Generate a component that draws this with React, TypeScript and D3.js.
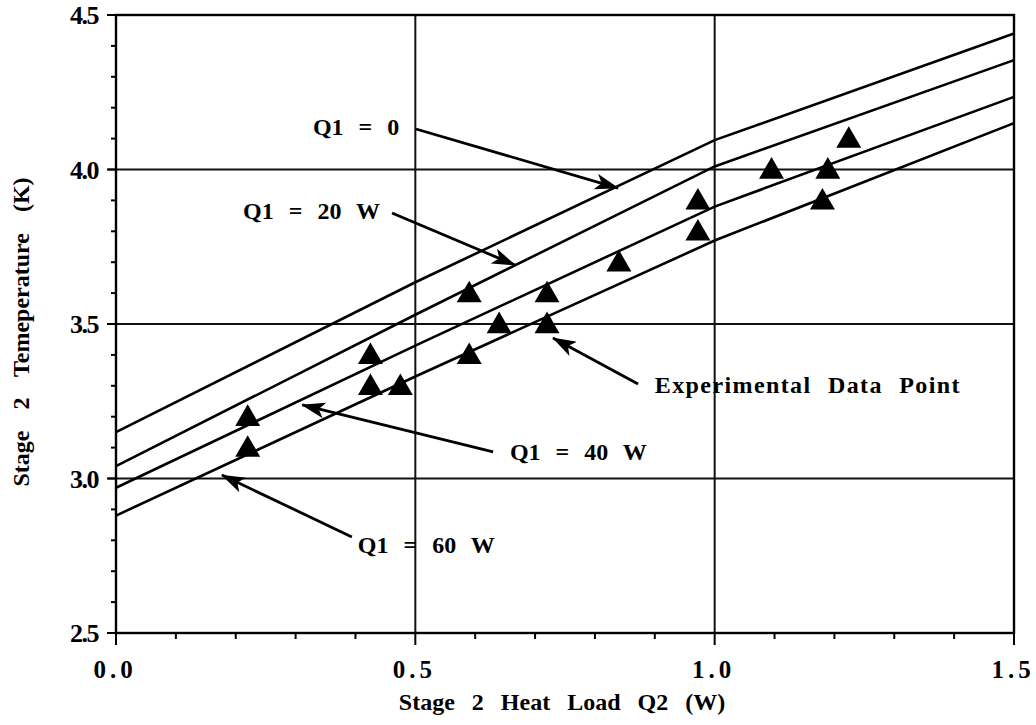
import React from "react";
import * as d3 from "d3";

// Q2 heat load grid for the model curves (W)
const q2Grid = [0, 0.5, 1.0, 1.5];
// model curves, stage 2 temperature (K) for each Q1
const curveQ1_0 = [3.15, 3.635, 4.095, 4.44];
const curveQ1_20 = [3.04, 3.53, 4.01, 4.354];
const curveQ1_40 = [2.97, 3.43, 3.88, 4.235];
const curveQ1_60 = [2.88, 3.33, 3.77, 4.15];

// experimental data points
const expQ2 = [0.22, 0.22, 0.425, 0.425, 0.475, 0.59, 0.59, 0.64, 0.72, 0.72, 0.84, 0.972, 0.972, 1.095, 1.189, 1.18, 1.224];
const expT = [3.2, 3.1, 3.4, 3.3, 3.3, 3.6, 3.4, 3.5, 3.6, 3.5, 3.7, 3.9, 3.8, 4.0, 4.0, 3.9, 4.1];

const xTicks = [0, 0.5, 1.0, 1.5];
const yTicks = [2.5, 3.0, 3.5, 4.0, 4.5];
const xTickLabels = ["0.0", "0.5", "1.0", "1.5"];
const yTickLabels = ["2.5", "3.0", "3.5", "4.0", "4.5"];

// annotations (data coords): label anchor, arrow start, arrow end
const annoText = ["Q1 = 0", "Q1 = 20 W", "Experimental Data Point", "Q1 = 40 W", "Q1 = 60 W"];
const annoAnchor = ["start", "end", "start", "start", "start"];
const annoSpacing = [0, 0, 1.4, 0, 0];
const annoPos = [[0.329, 4.112], [0.441, 3.84], [0.9, 3.277], [0.658, 3.06], [0.404, 2.759]];
const annoFrom = [[0.501, 4.131], [0.461, 3.859], [0.872, 3.306], [0.63, 3.086], [0.394, 2.811]];
const annoTo = [[0.8385, 3.94], [0.6665, 3.691], [0.73, 3.455], [0.311, 3.238], [0.177, 3.011]];

const serif = { fontFamily: "'Liberation Serif', 'DejaVu Serif', serif", fontWeight: 700 };

export default function App() {
  const width = 1036;
  const height = 725;

  //scales
  const x = d3.scaleLinear().domain([0, 1.5]).range([116, 1014]);
  const y = d3.scaleLinear().domain([2.5, 4.5]).range([633, 15]);

  const line = d3
    .line<number>()
    .x((_, i) => x(q2Grid[i]))
    .y((d) => y(d));

  const curves = [curveQ1_0, curveQ1_20, curveQ1_40, curveQ1_60];
  const minorX = d3.range(0, 1.5001, 0.1);
  const minorY = d3.range(2.5, 4.5001, 0.1);

  const tri = d3.symbol().type(d3.symbolTriangle).size(270);

  return (
    <svg
      width={width}
      height={height}
      style={{ position: "absolute", left: 0, top: 0, background: "#fff" }}
    >
      <defs>
        <marker
          id="head"
          viewBox="0 0 24 16"
          refX="23"
          refY="8"
          markerWidth="24"
          markerHeight="16"
          markerUnits="userSpaceOnUse"
          orient="auto"
        >
          <path d="M0,0 L24,8 L0,16 L6,8 Z" fill="#000" />
        </marker>
      </defs>

      {/* grid */}
      {xTicks.slice(1, -1).map((t) => (
        <line key={"gx" + t} x1={x(t)} x2={x(t)} y1={y(4.5)} y2={y(2.5)} stroke="#111" strokeWidth={2} />
      ))}
      {yTicks.slice(1, -1).map((t) => (
        <line key={"gy" + t} x1={x(0) - 8} x2={x(1.5)} y1={y(t)} y2={y(t)} stroke="#111" strokeWidth={2} />
      ))}

      {/* frame */}
      <rect x={x(0)} y={y(4.5)} width={x(1.5) - x(0)} height={y(2.5) - y(4.5)} fill="none" stroke="#000" strokeWidth={2.4} />

      {/* minor + major ticks */}
      {minorY.map((t, i) => (
        <line key={"ty" + i} x1={x(0) - (i % 5 === 0 ? 9 : 5)} x2={x(0)} y1={y(t)} y2={y(t)} stroke="#000" strokeWidth={2} />
      ))}
      {minorX.map((t, i) => (
        <line key={"tx" + i} x1={x(t)} x2={x(t)} y1={y(2.5)} y2={y(2.5) + (i % 5 === 0 ? 12 : 6)} stroke="#000" strokeWidth={2} />
      ))}

      {/* tick labels */}
      {yTicks.map((t, i) => (
        <text key={"ly" + t} x={98} y={y(t)} dy="0.35em" textAnchor="end" fontSize={26} letterSpacing={-1.5} style={serif}>
          {yTickLabels[i]}
        </text>
      ))}
      {xTicks.map((t, i) => (
        <text key={"lx" + t} x={x(t) - 1} y={678} textAnchor="middle" fontSize={25} letterSpacing={4} style={serif}>
          {xTickLabels[i]}
        </text>
      ))}

      {/* axis titles */}
      <text x={562} y={710} textAnchor="middle" fontSize={24} wordSpacing={11} style={serif}>
        Stage 2 Heat Load Q2 (W)
      </text>
      <text transform={`translate(29,332) rotate(-90)`} textAnchor="middle" fontSize={24} wordSpacing={15} style={serif}>
        Stage 2 Temeperature (K)
      </text>

      {/* model curves */}
      {curves.map((c, i) => (
        <path key={"c" + i} d={line(c) || ""} fill="none" stroke="#000" strokeWidth={2.6} />
      ))}

      {/* experimental points */}
      {expQ2.map((q, i) => (
        <path key={"p" + i} d={tri() || ""} transform={`translate(${x(q)},${y(expT[i]) + 2})`} fill="#000" />
      ))}

      {/* annotations */}
      {annoText.map((s, i) => (
        <g key={"a" + i}>
          <line
            x1={x(annoFrom[i][0])}
            y1={y(annoFrom[i][1])}
            x2={x(annoTo[i][0])}
            y2={y(annoTo[i][1])}
            stroke="#000"
            strokeWidth={2.8}
            markerEnd="url(#head)"
          />
          <text
            x={x(annoPos[i][0])}
            y={y(annoPos[i][1])}
            textAnchor={annoAnchor[i]}
            fontSize={24}
            wordSpacing={9}
            letterSpacing={annoSpacing[i]}
            style={serif}
          >
            {s}
          </text>
        </g>
      ))}
    </svg>
  );
}
